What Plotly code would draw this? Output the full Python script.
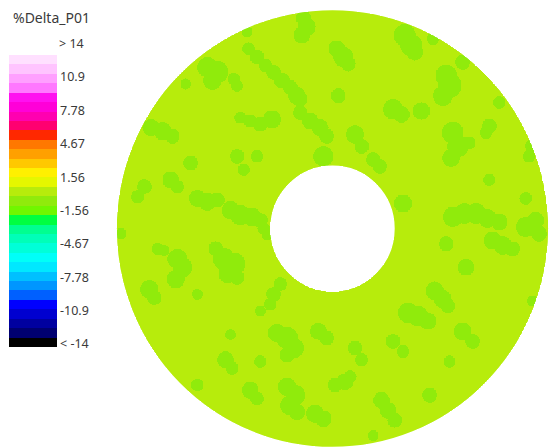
import numpy as np
import plotly.graph_objects as go

# Annulus geometry (mm)
R_OUTER = 650
R_INNER = 187

# Field levels on the disk
BASE_VALUE = 0.2
PATCH_VALUE = -0.65

# Low-value patches, each a cluster of discs: centre x, centre y, radius (mm)
PATCHES = [
    # upper half
    (-87, 625, 23), (-77, 600, 27), (-92, 575, 25), (-257, 585, 16),
    (218, 575, 33), (238, 545, 33), (248, 525, 25), (303, 565, 19),
    (-377, 480, 30), (-347, 465, 33), (-362, 440, 27), (-442, 430, 16),
    (-297, 445, 19), (-287, 425, 18),
    (-252, 535, 19), (-227, 510, 22), (-202, 485, 20), (-177, 465, 22),
    (-152, 440, 24), (-127, 420, 22), (-107, 395, 26), (-97, 385, 22),
    (13, 535, 25), (33, 510, 30), (48, 490, 22), (18, 395, 22),
    (343, 455, 33), (353, 425, 37), (333, 395, 30), (393, 495, 22),
    (183, 355, 30), (208, 340, 25), (268, 350, 26), (503, 375, 18),
    (473, 305, 22), (463, 285, 19),
    (-277, 330, 18), (-247, 320, 20), (-217, 310, 22), (-182, 325, 27),
    (-97, 345, 22), (-67, 320, 25), (-37, 300, 25), (-17, 275, 22),
    (68, 280, 27), (88, 245, 22),
    (-547, 300, 25), (-512, 290, 27), (-482, 275, 22),
    (363, 285, 33), (378, 245, 33), (358, 210, 27), (413, 255, 19),
    (603, 245, 22), (593, 215, 19), (473, 145, 18), (583, 90, 19),
    (-427, 195, 22), (-287, 215, 22), (-267, 175, 18), (-227, 215, 19),
    (-27, 215, 30), (123, 205, 22), (143, 185, 22),
    (-587, 95, 20), (-567, 125, 22), (-487, 145, 25), (-467, 125, 20),
    (-407, 90, 25), (-377, 80, 27), (-347, 85, 22),
    (-307, 55, 27), (-277, 40, 30), (-242, 35, 27), (-217, 25, 22),
    (213, 75, 27),
    (363, 35, 30), (398, 45, 30), (433, 45, 30), (468, 30, 27), (503, 20, 25),
    (583, 5, 30), (613, 25, 25),
    # lower half
    (-207, 0, 19), (-197, -20, 16), (623, -15, 24),
    (483, -35, 27), (513, -50, 27), (543, -60, 22), (343, -45, 22),
    (-637, -15, 17), (-527, -60, 18), (-507, -65, 16),
    (-467, -90, 30), (-452, -115, 30), (-472, -150, 27),
    (-352, -60, 22), (-327, -90, 33), (-297, -105, 35), (-317, -135, 27), (-287, -145, 22),
    (-552, -180, 27), (-537, -205, 22), (-407, -195, 16), (403, -115, 25),
    (308, -185, 27), (333, -210, 27), (348, -230, 22),
    (228, -250, 30), (258, -260, 30), (288, -275, 25), (603, -215, 16),
    (-157, -165, 20), (-177, -195, 22), (-187, -225, 19), (-217, -245, 16),
    (-167, -310, 27), (-137, -325, 33), (-117, -355, 30), (-137, -375, 22),
    (-42, -305, 25), (-17, -325, 22), (68, -355, 22), (88, -390, 19),
    (183, -335, 22), (213, -365, 19), (393, -305, 27), (423, -335, 22),
    (353, -395, 18), (-307, -315, 16), (-322, -390, 25), (-302, -415, 20),
    (-217, -395, 18), (-247, -480, 25), (-227, -505, 20), (-407, -465, 19),
    (-137, -470, 27), (-112, -495, 30), (-127, -525, 30), (-107, -545, 25),
    (-52, -550, 27), (-27, -565, 25),
    (8, -465, 22), (38, -455, 25), (53, -440, 19),
    (148, -510, 25), (168, -540, 25), (188, -570, 22), (293, -495, 22),
    (123, -615, 17),
]

# Legend bands, top to bottom
BAND_COLORS = [
    "#FFE0FF", "#FFC4FF", "#FFA0FF", "#FF78FF", "#FF10F0", "#FF00D8", "#FF00B0",
    "#FF0070", "#FF2800", "#FF7800", "#FFA000", "#FFC800", "#FFF000", "#E5F700",
    "#B7EC0C", "#90EB0C", "#70F700", "#00FF40", "#00FF90", "#00FFB8", "#00FFD8",
    "#00FFF8", "#00E8FF", "#00C0FF", "#0096FF", "#0060FF", "#0000FF", "#0000D0",
    "#0000A0", "#000070", "#000000",
]
LEVEL_MAX = 12.95
LEVEL_STEP = 0.878

TICK_VALUES = [10.9, 7.78, 4.67, 1.56, -1.56, -4.67, -7.78, -10.9, -14]
TICK_LABELS = ["10.9", "7.78", "4.67", "1.56", "-1.56", "-4.67", "-7.78", "-10.9", "< -14"]
TOP_LABEL = "> 14"
TITLE = "%Delta_P01"

# Sample the field on a regular grid
coords = np.linspace(-R_OUTER, R_OUTER, 651)
X, Y = np.meshgrid(coords, coords)
R = np.hypot(X, Y)
Z = np.full(X.shape, BASE_VALUE)
for px, py, pr in PATCHES:
    Z[(X - px) ** 2 + (Y - py) ** 2 <= pr ** 2] = PATCH_VALUE
Z[(R > R_OUTER) | (R < R_INNER)] = np.nan
z_list = [[None if np.isnan(v) else round(float(v), 3) for v in row] for row in Z]

# Stepped colour scale built from the bands
n = len(BAND_COLORS)
level_min = LEVEL_MAX - n * LEVEL_STEP
colorscale = []
for i, c in enumerate(reversed(BAND_COLORS)):
    colorscale.append([i / n, c])
    colorscale.append([(i + 1) / n, c])

W, H = 550, 447
fig = go.Figure(
    go.Heatmap(
        x=coords,
        y=coords,
        z=z_list,
        zmin=level_min,
        zmax=LEVEL_MAX,
        colorscale=colorscale,
        zsmooth=False,
        hoverinfo="skip",
        colorbar=dict(
            thickness=48,
            thicknessmode="pixels",
            len=292,
            lenmode="pixels",
            x=9 / W,
            xanchor="left",
            xpad=0,
            y=(H - 201) / H,
            yanchor="middle",
            ypad=0,
            outlinewidth=0,
            ticks="",
            tickvals=TICK_VALUES,
            ticktext=TICK_LABELS,
            tickfont=dict(family="Noto Sans", size=12.5, color="#3a3a3a"),
        ),
    )
)

# Smooth the rim and the hole edge of the rasterised disk
for rad in (R_OUTER + 2, R_INNER - 2):
    fig.add_shape(
        type="circle", xref="x", yref="y",
        x0=-rad, x1=rad, y0=-rad, y1=rad,
        line=dict(color="white", width=1.6), fillcolor="rgba(0,0,0,0)",
    )

fig.add_annotation(
    text=TITLE, xref="paper", yref="paper", x=11 / W, y=1 - 17 / H,
    xanchor="left", yanchor="middle", showarrow=False,
    font=dict(family="Noto Sans", size=14, color="#3a3a3a"),
)
fig.add_annotation(
    text=TOP_LABEL, xref="paper", yref="paper", x=57 / W, y=1 - 43 / H,
    xanchor="left", yanchor="middle", showarrow=False,
    font=dict(family="Noto Sans", size=12.5, color="#3a3a3a"),
)

fig.update_xaxes(visible=False, range=[-R_OUTER, R_OUTER], domain=[116.7 / W, 548.3 / W])
fig.update_yaxes(visible=False, range=[-R_OUTER, R_OUTER], domain=[0, 437 / H])
fig.update_layout(
    width=W,
    height=H,
    margin=dict(l=0, r=0, t=0, b=0),
    paper_bgcolor="white",
    plot_bgcolor="white",
    showlegend=False,
)

fig.write_html("out.html")
